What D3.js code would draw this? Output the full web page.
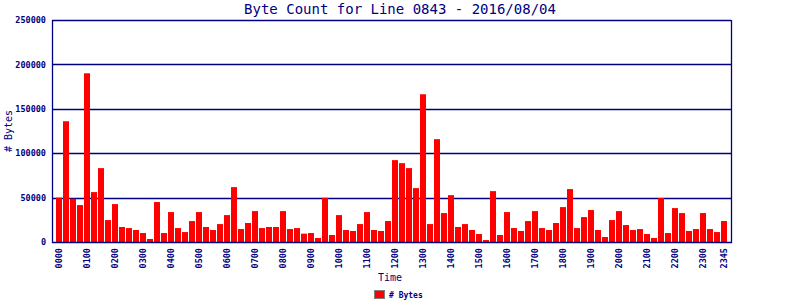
<!DOCTYPE html>
<html>
<head>
<meta charset="utf-8">
<script src="https://cdn.jsdelivr.net/npm/d3@7"></script>
<style>
  body { margin: 0; background: #fff; }
  text { font-family: "DejaVu Sans Mono", monospace; fill: #000080; }
</style>
</head>
<body>
<svg id="chart" width="800" height="300"></svg>
<script>
// 15-minute slots, 0000 .. 2345
var times = [];
for (var h = 0; h < 24; h++) {
    for (var m = 0; m < 60; m += 15) {
        times.push(d3.format("02")(h) + d3.format("02")(m));
    }
}

var bytes = [
    50000, 136000, 48700, 41600, 190000, 56200, 83200, 24700,
    42700, 16900, 15700, 13500, 10100, 3400, 45000, 10100,
    33700, 15700, 11200, 23600, 33700, 16900, 13500, 20200,
    30300, 61800, 14600, 21400, 34800, 15700, 16900, 16900,
    34800, 14600, 15700, 9400, 10100, 4500, 49800, 7900,
    30300, 13500, 12400, 20200, 33700, 13500, 12400, 23600,
    92200, 88800, 83200, 60700, 166400, 20200, 115800, 32600,
    52800, 16900, 20200, 13500, 9000, 2200, 57300, 7900,
    33700, 15700, 12400, 23600, 34800, 15700, 13500, 21400,
    39300, 59600, 15700, 28100, 36000, 13500, 5600, 24700,
    34800, 19100, 13500, 14600, 9000, 4500, 49500, 10100,
    38200, 32600, 12400, 14600, 32600, 14600, 11200, 23600
];

var tickLabels = ["0000", "0100", "0200", "0300", "0400", "0500", "0600", "0700",
    "0800", "0900", "1000", "1100", "1200", "1300", "1400", "1500", "1600",
    "1700", "1800", "1900", "2000", "2100", "2200", "2300", "2345"];

var yTicks = [0, 50000, 100000, 150000, 200000, 250000];

var navy = "#000080";
var plotLeft = 52, plotRight = 731, plotTop = 20, plotBottom = 242;

var svg = d3.select("#chart");

var x = d3.scaleBand()
    .domain(times)
    .range([plotLeft + 3.5, plotRight - 3.5])
    .paddingInner(1 / 7)
    .paddingOuter(1 / 14);

var y = d3.scaleLinear()
    .domain([0, 250000])
    .range([plotBottom, plotTop]);

// title
svg.append("text")
    .attr("x", 400)
    .attr("y", 14)
    .attr("text-anchor", "middle")
    .style("font-size", "14px")
    .text("Byte Count for Line 0843 - 2016/08/04");

// grid lines
svg.append("g")
    .selectAll("line")
    .data(yTicks.filter(d => d > 0))
    .enter()
    .append("line")
    .attr("x1", plotLeft)
    .attr("x2", plotRight)
    .attr("y1", d => Math.round(y(d)) + 0.5)
    .attr("y2", d => Math.round(y(d)) + 0.5)
    .attr("stroke", navy)
    .attr("stroke-width", 1.3);

// bars
svg.append("g")
    .selectAll("rect")
    .data(bytes)
    .enter()
    .append("rect")
    .attr("x", (d, i) => x(times[i]))
    .attr("y", d => y(d))
    .attr("width", x.bandwidth())
    .attr("height", d => plotBottom - y(d))
    .attr("fill", "#ff0000");

// frame: left, right, bottom
svg.append("path")
    .attr("d", `M${plotLeft + 0.5},${plotTop} V${plotBottom + 0.5} H${plotRight + 0.5} V${plotTop}`)
    .attr("fill", "none")
    .attr("stroke", navy)
    .attr("stroke-width", 1.3);

// y axis labels
var yAxis = d3.axisLeft(y)
    .tickValues(yTicks)
    .tickSize(0)
    .tickPadding(6)
    .tickFormat(d3.format("d"));

svg.append("g")
    .attr("transform", `translate(${plotLeft},0)`)
    .call(yAxis)
    .call(g => g.select(".domain").remove())
    .selectAll("text")
    .style("font-family", "'DejaVu Sans Mono', monospace")
    .style("font-size", "8.5px")
    .style("font-weight", "bold")
    .attr("fill", navy);

// x axis labels (rotated)
var xAxis = d3.axisBottom(x)
    .tickValues(tickLabels)
    .tickSize(0)
    .tickPadding(0);

svg.append("g")
    .attr("transform", `translate(0,${plotBottom})`)
    .call(xAxis)
    .call(g => g.select(".domain").remove())
    .selectAll("text")
    .attr("transform", "rotate(-90)")
    .attr("x", -6)
    .attr("y", 0)
    .attr("dy", "0.35em")
    .attr("text-anchor", "end")
    .style("font-family", "'DejaVu Sans Mono', monospace")
    .style("font-size", "8.5px")
    .style("font-weight", "bold")
    .attr("fill", navy);

// axis titles
svg.append("text")
    .attr("transform", "translate(12,131) rotate(-90)")
    .attr("text-anchor", "middle")
    .style("font-size", "10px")
    .text("# Bytes");

svg.append("text")
    .attr("x", 390)
    .attr("y", 281)
    .attr("text-anchor", "middle")
    .style("font-size", "10px")
    .text("Time");

// legend
svg.append("rect")
    .attr("x", 374.5)
    .attr("y", 290.5)
    .attr("width", 10)
    .attr("height", 8)
    .attr("fill", "#ff0000")
    .attr("stroke", "#808080");

svg.append("text")
    .attr("x", 389)
    .attr("y", 298)
    .style("font-size", "8px")
    .style("font-weight", "bold")
    .text("# Bytes");
</script>
</body>
</html>
